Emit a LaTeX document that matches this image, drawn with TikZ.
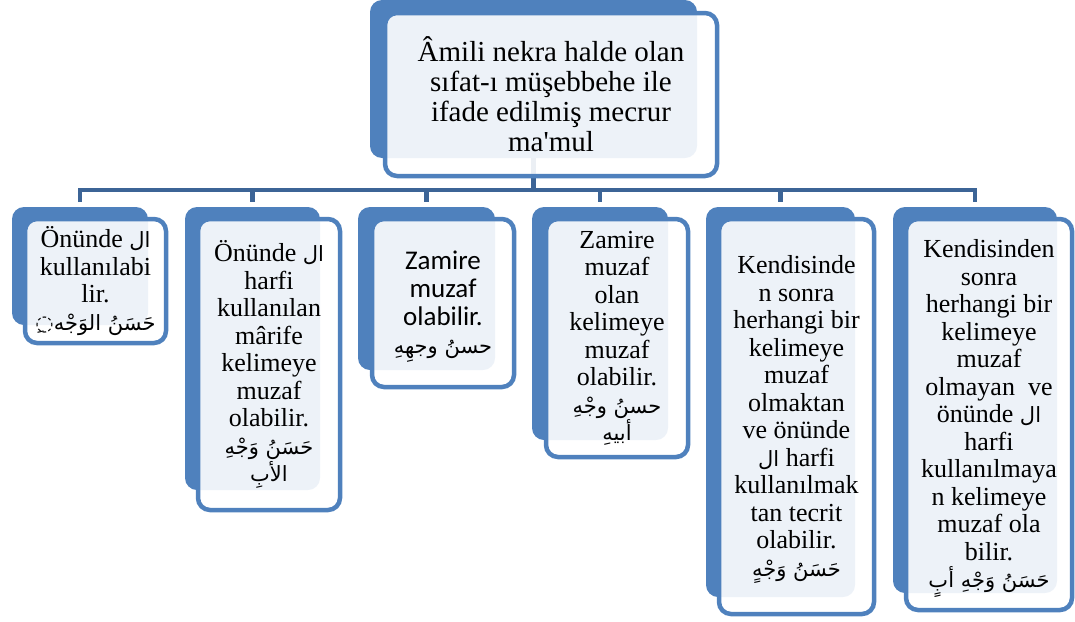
\documentclass[tikz,border=0pt]{standalone}
\usepackage{fontspec}
\setmainfont{Liberation Serif}[Ligatures=TeXOff]
\newfontfamily\arabicfont[Script=Arabic]{DejaVu Sans}
\newfontfamily\calibfont{Carlito}
\TeXXeTstate=1
% Arabic words inside the Latin text
\newcommand\ar[1]{{\arabicfont\fontsize{21}{27.5}\selectfont\beginR #1\endR}}
\definecolor{accent}{RGB}{79,129,189}
\definecolor{linkblue}{RGB}{60,100,150}
\tikzset{
  backbox/.style={rectangle, rounded corners=12pt, fill=accent, draw=none,
    inner sep=0pt, outer sep=0pt},
  frontbox/.style={rectangle, rounded corners=12pt, fill=white, fill opacity=0.9,
    draw=accent, draw opacity=1, line width=4.5pt, inner sep=0pt},
  boxtext/.style={align=center, inner sep=0pt, text=black,
    font=\fontsize{26}{27.5}\selectfont},
  link/.style={draw=linkblue, line width=4.5pt},
}
\begin{document}
\lineskiplimit=-100pt
\begin{tikzpicture}[x=1pt, y=-1pt]
\useasboundingbox (0,0) rectangle (1075,621);

% back plates
\node[backbox, minimum width=327pt, minimum height=158pt] (b0) at (533.5,79) {};
\node[backbox, minimum width=136pt, minimum height=118pt] (b1) at (80,266) {};
\node[backbox, minimum width=135pt, minimum height=283pt] (b2) at (252.5,348.5) {};
\node[backbox, minimum width=137pt, minimum height=163pt] (b3) at (426.5,288.5) {};
\node[backbox, minimum width=136pt, minimum height=233pt] (b4) at (600,323.5) {};
\node[backbox, minimum width=149pt, minimum height=390pt] (b5) at (780.5,402) {};
\node[backbox, minimum width=164pt, minimum height=386pt] (b6) at (975,400) {};

% tree connectors
\coordinate (bus) at (0,190);
\draw[link] (b0.south) -- (b0.south |- bus);
\draw[link] ([yshift=5pt]b1.north) -- (b1.north |- bus) -- (b6.north |- bus) -- ([yshift=5pt]b6.north);
\foreach \b in {b2,b3,b4,b5}
  \draw[link] (\b.north |- bus) -- ([yshift=5pt]\b.north);

% front cards
\node[frontbox, minimum width=332pt, minimum height=163pt] (f0) at (551,94.5) {};
\node[frontbox, minimum width=141pt, minimum height=124pt] (f1) at (95.5,281) {};
\node[frontbox, minimum width=142pt, minimum height=291pt] (f2) at (269,364.5) {};
\node[frontbox, minimum width=142pt, minimum height=168pt] (f3) at (443,303) {};
\node[frontbox, minimum width=142pt, minimum height=238pt] (f4) at (617,338) {};
\node[frontbox, minimum width=155pt, minimum height=395pt] (f5) at (796.5,416.5) {};
\node[frontbox, minimum width=166pt, minimum height=391pt] (f6) at (989,414.5) {};

% texts
\node[boxtext, font=\fontsize{29}{30}\selectfont] (t0) at (f0.center)
  {Âmili nekra halde olan\\ sıfat-ı müşebbehe ile\\ ifade edilmiş mecrur\\ ma'mul};
\node[boxtext] (t1) at (f1.center)
  {Önünde \ar{ال}\\ kullanılabi\\ lir.\\ \ar{حَسَنُ الوَجْه◌ِ}};
\node[boxtext] (t2) at (f2.center)
  {Önünde \ar{ال}\\ harfi\\ kullanılan\\ mârife\\ kelimeye\\ muzaf\\ olabilir.\\ \ar{حَسَنُ وَجْهِ}\\ \ar{الأبِ}};
\node[boxtext, font=\calibfont\fontsize{27}{28}\selectfont, yshift=-4pt] (t3) at (f3.center)
  {Zamire\\ muzaf\\ olabilir.\\ \ar{حسنُ وجهِهِ}};
\node[boxtext] (t4) at (f4.center)
  {Zamire\\ muzaf\\ olan\\ kelimeye\\ muzaf\\ olabilir.\\ \ar{حسنُ وجْهِ}\\ \ar{أبيهِ}};
\node[boxtext, yshift=-3pt] (t5) at (f5.center)
  {Kendisinde\\ n sonra\\ herhangi bir\\ kelimeye\\ muzaf\\ olmaktan\\ ve önünde\\ \ar{ال} harfi\\ kullanılmak\\ tan tecrit\\ olabilir.\\ \ar{حَسَنُ وَجْهٍ}};
\node[boxtext, yshift=-4pt] (t6) at (f6.center)
  {Kendisinden\\ sonra\\ herhangi bir\\ kelimeye\\ muzaf\\ olmayan~ ve\\ önünde \ar{ال}\\ harfi\\ kullanılmaya\\ n kelimeye\\ muzaf ola\\ bilir.\\ \ar{حَسَنُ وَجْهِ أبٍ}};
\end{tikzpicture}
\end{document}
